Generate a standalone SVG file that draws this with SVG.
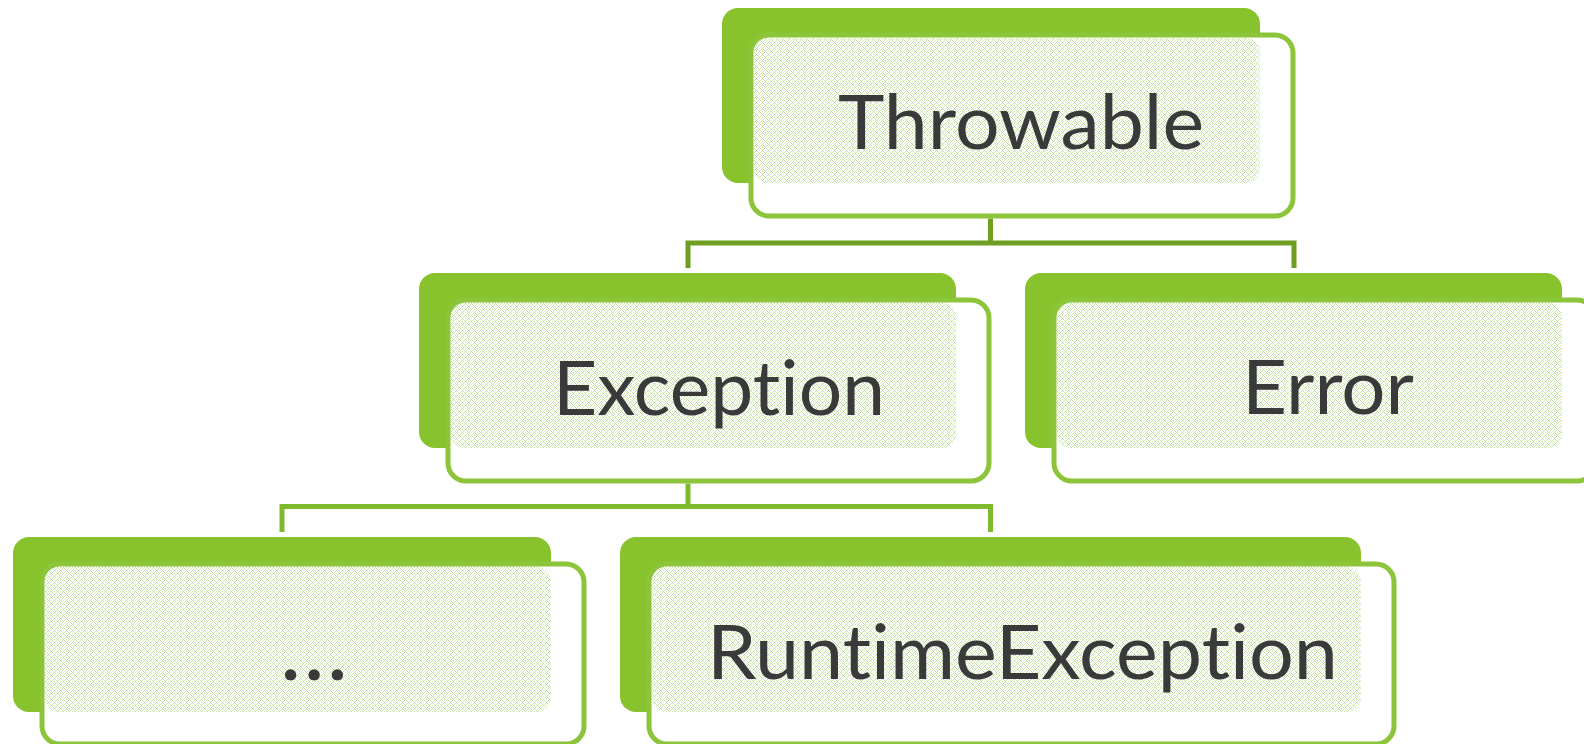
<svg xmlns="http://www.w3.org/2000/svg" width="1584" height="744" viewBox="0 0 1584 744">
  <defs>
    <!-- light dotted texture used on the shaded part of each card -->
    <pattern id="dots" x="0" y="0" width="6" height="6" patternUnits="userSpaceOnUse">
      <rect width="6" height="6" fill="#ffffff"/>
      <rect x="0" y="0" width="1" height="1" fill="#b8db88"/>
      <rect x="3" y="0" width="1" height="1" fill="#d3e9b5"/>
      <rect x="1" y="1" width="1" height="1" fill="#c6e29e"/>
      <rect x="5" y="1" width="1" height="1" fill="#c6e29e"/>
      <rect x="2" y="2" width="1" height="1" fill="#d3e9b5"/>
      <rect x="4" y="2" width="1" height="1" fill="#d3e9b5"/>
      <rect x="0" y="3" width="1" height="1" fill="#c6e29e"/>
      <rect x="3" y="3" width="1" height="1" fill="#b8db88"/>
      <rect x="2" y="4" width="1" height="1" fill="#d3e9b5"/>
      <rect x="4" y="4" width="1" height="1" fill="#d3e9b5"/>
      <rect x="1" y="5" width="1" height="1" fill="#c6e29e"/>
      <rect x="5" y="5" width="1" height="1" fill="#c6e29e"/>
    </pattern>
  </defs>
  <style>
    .back  { fill: #88c22d; }
    .front { fill: #ffffff; stroke: #8cc43a; stroke-width: 5; }
    .shade { fill: url(#dots); }
    .label { font-family: Lato, "Open Sans", "Liberation Sans", sans-serif; font-size: 75px; fill: #3a3a3a;
             font-variant-ligatures: none; font-feature-settings: "liga" 0, "clig" 0; }
    .ellipsis { font-size: 90px; }
    .link1 { fill: none; stroke: #6e9f23; stroke-width: 5; }
    .link2 { fill: none; stroke: #7fba2c; stroke-width: 5; }
    .ghost { stroke: #b9db8c; stroke-width: 5; stroke-dasharray: 1 2; opacity: 0.7; }
  </style>

  <rect width="1584" height="744" fill="#ffffff"/>

  <!-- tree connectors -->
  <g id="connectors">
    <line class="ghost" x1="990.5" y1="184" x2="990.5" y2="214"/>
    <path class="link1" d="M990.5 218.5 V243 M688 243 H1294 M688 240.5 V268 M1294 240.5 V268"/>
    <line class="ghost" x1="688" y1="449" x2="688" y2="479"/>
    <path class="link2" d="M688 483.5 V506.5 M282 506.5 H990.5 M282 504 V532 M990.5 504 V532"/>
  </g>

  <g id="node-throwable">
    <rect class="back" x="722" y="8" width="538" height="175" rx="16"/>
    <rect class="front" x="751" y="35" width="542" height="181" rx="18"/>
    <rect class="shade" x="754" y="38" width="506" height="145" rx="14"/>
    <text class="label" x="838" y="149" textLength="366" lengthAdjust="spacingAndGlyphs">Throwable</text>
  </g>

  <g id="node-exception">
    <rect class="back" x="419" y="273" width="537" height="175" rx="16"/>
    <rect class="front" x="448" y="300" width="541" height="181" rx="18"/>
    <rect class="shade" x="451" y="303" width="505" height="145" rx="14"/>
    <text class="label" x="553" y="415" textLength="332" lengthAdjust="spacingAndGlyphs">Exception</text>
  </g>

  <g id="node-error">
    <rect class="back" x="1025" y="273" width="537" height="175" rx="16"/>
    <rect class="front" x="1054" y="300" width="541" height="181" rx="18"/>
    <rect class="shade" x="1057" y="303" width="505" height="145" rx="14"/>
    <text class="label" x="1242" y="414" textLength="172" lengthAdjust="spacingAndGlyphs">Error</text>
  </g>

  <g id="node-other">
    <rect class="back" x="13" y="537" width="538" height="175" rx="16"/>
    <rect class="front" x="42" y="564" width="542" height="180" rx="18"/>
    <rect class="shade" x="45" y="567" width="506" height="145" rx="14"/>
    <text class="label ellipsis" x="280" y="680" textLength="68" lengthAdjust="spacing">...</text>
  </g>

  <g id="node-runtime">
    <rect class="back" x="620" y="537" width="741" height="175" rx="16"/>
    <rect class="front" x="649" y="564" width="745" height="180" rx="18"/>
    <rect class="shade" x="652" y="567" width="709" height="145" rx="14"/>
    <text class="label" x="707" y="679" textLength="631" lengthAdjust="spacingAndGlyphs">RuntimeException</text>
  </g>
</svg>
